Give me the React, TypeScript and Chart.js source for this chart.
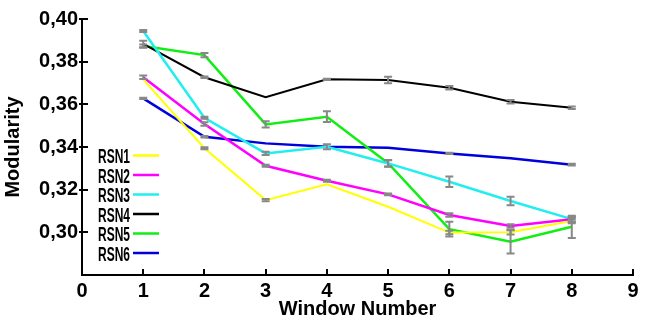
import React, { useEffect, useRef } from "react";
import { Chart, registerables } from "chart.js";

Chart.register(...registerables);

const windows = [1, 2, 3, 4, 5, 6, 7, 8];
const seriesNames = ["RSN1", "RSN2", "RSN3", "RSN4", "RSN5", "RSN6"];
const seriesColors = ["#ffff00", "#ff00ff", "#22eeee", "#000000", "#11ee11", "#0000dd"];

const rsn1 = [0.3717, 0.3394, 0.3151, 0.3225, 0.312, 0.2999, 0.3, 0.3053];
const rsn2 = [0.3727, 0.3508, 0.3312, 0.3242, 0.3178, 0.3081, 0.303, 0.3061];
const rsn3 = [0.3944, 0.3537, 0.337, 0.3401, 0.3323, 0.3237, 0.3147, 0.3062];
const rsn4 = [0.3883, 0.3727, 0.3633, 0.3717, 0.3714, 0.3678, 0.3612, 0.3584];
const rsn5 = [0.3873, 0.3831, 0.3506, 0.3542, 0.3324, 0.3015, 0.2956, 0.3026];
const rsn6 = [0.3628, 0.3448, 0.3417, 0.3401, 0.3397, 0.337, 0.3347, 0.3317];

const err1 = [0, 0.0005, 0.0005, 0, 0, 0.0008, 0.001, 0.001];
const err2 = [0.0008, 0.0008, 0.0005, 0.0005, 0.0004, 0.0008, 0.0008, 0.0012];
const err3 = [0.0005, 0.0005, 0.0008, 0, 0.0015, 0.0025, 0.002, 0.001];
const err4 = [0.0015, 0.0003, 0, 0.0003, 0.0015, 0.0008, 0.0008, 0.0006];
const err5 = [0.0008, 0.001, 0.0015, 0.0025, 0.0015, 0.0035, 0.0055, 0.0052];
const err6 = [0.0003, 0.0004, 0, 0.0012, 0, 0.0003, 0, 0.0004];

const yTicks = [0.3, 0.32, 0.34, 0.36, 0.38, 0.4];
const xTicks = [1, 2, 3, 4, 5, 6, 7, 8, 9];

const allValues = [rsn1, rsn2, rsn3, rsn4, rsn5, rsn6];
const allErrors = [err1, err2, err3, err4, err5, err6];

const FONT = '"Liberation Sans", Arial, sans-serif';

const errorBarPlugin = {
  id: "errorBars",
  afterDatasetsDraw(chart: any) {
    const ctx = chart.ctx;
    const xs = chart.scales.x;
    const ys = chart.scales.y;
    ctx.save();
    ctx.strokeStyle = "#888888";
    ctx.lineWidth = 2;
    allValues.forEach((vals, si) => {
      vals.forEach((v, i) => {
        const e = allErrors[si][i];
        if (!e) return;
        const px = xs.getPixelForValue(windows[i]);
        const y1 = ys.getPixelForValue(v + e);
        const y2 = ys.getPixelForValue(v - e);
        ctx.beginPath();
        ctx.moveTo(px, y1);
        ctx.lineTo(px, y2);
        ctx.moveTo(px - 4, y1);
        ctx.lineTo(px + 4, y1);
        ctx.moveTo(px - 4, y2);
        ctx.lineTo(px + 4, y2);
        ctx.stroke();
      });
    });
    ctx.restore();
  },
};

const axisTickPlugin = {
  id: "inwardTicks",
  afterDraw(chart: any) {
    const ctx = chart.ctx;
    const xs = chart.scales.x;
    const ys = chart.scales.y;
    const area = chart.chartArea;
    ctx.save();
    ctx.strokeStyle = "#000";
    ctx.lineWidth = 2;
    yTicks.forEach((t) => {
      const py = Math.round(ys.getPixelForValue(t));
      ctx.beginPath();
      ctx.moveTo(area.left - 3, py);
      ctx.lineTo(area.left + 6, py);
      ctx.stroke();
    });
    xTicks.forEach((t) => {
      const px = Math.round(xs.getPixelForValue(t));
      ctx.beginPath();
      ctx.moveTo(px, area.bottom);
      ctx.lineTo(px, area.bottom - 6);
      ctx.stroke();
    });
    ctx.restore();
  },
};

const legendPlugin = {
  id: "insideLegend",
  afterDraw(chart: any) {
    const ctx = chart.ctx;
    ctx.save();
    const startY = 156.5;
    const step = 19.5;
    seriesNames.forEach((name, i) => {
      const cy = startY + i * step;
      ctx.font = "bold 20px " + FONT;
      ctx.fillStyle = "#000";
      ctx.textBaseline = "middle";
      ctx.textAlign = "left";
      const w = ctx.measureText(name).width;
      const target = 32;
      ctx.save();
      ctx.translate(98, cy);
      ctx.scale(target / w, 1.03);
      ctx.fillText(name, 0, 1);
      ctx.restore();
      ctx.strokeStyle = seriesColors[i];
      ctx.lineWidth = 2.5;
      ctx.beginPath();
      ctx.moveTo(133, cy - 1);
      ctx.lineTo(159, cy - 1);
      ctx.stroke();
    });
    ctx.restore();
  },
};

export default function App() {
  const ref = useRef<HTMLCanvasElement | null>(null);
  useEffect(() => {
    document.body.style.margin = "0";
    if (!ref.current) return;
    const chart = new Chart(ref.current, {
      type: "line",
      data: {
        datasets: allValues.map((vals, i) => ({
          label: seriesNames[i],
          data: vals.map((v, j) => ({ x: windows[j], y: v })),
          borderColor: seriesColors[i],
          backgroundColor: seriesColors[i],
          borderWidth: i === 3 || i === 0 ? 2 : 2.5,
          pointRadius: 0,
          tension: 0,
          fill: false,
        })),
      },
      options: {
        responsive: false,
        animation: false,
        layout: { padding: { top: 19, right: 16, left: 0, bottom: 0 } },
        plugins: {
          legend: { display: false },
          tooltip: { enabled: false },
        },
        scales: {
          x: {
            type: "linear",
            min: 0,
            max: 9,
            afterFit: (s: any) => {
              s.height = 46;
            },
            afterBuildTicks: (s: any) => {
              s.ticks = [0, ...xTicks].map((v) => ({ value: v }));
            },
            grid: { display: false, drawTicks: false },
            border: { display: true, color: "#000", width: 2 },
            ticks: {
              color: "#000",
              padding: 4,
              maxRotation: 0,
              font: { family: FONT, size: 20, weight: "bold" },
              callback: (v: any) => String(v),
            },
            title: {
              display: true,
              text: "Window Number",
              color: "#000",
              padding: { top: 0, bottom: 0 },
              font: { family: FONT, size: 20, weight: "bold" },
            },
          },
          y: {
            type: "linear",
            min: 0.28,
            max: 0.4,
            afterFit: (s: any) => {
              s.width = 82;
            },
            afterBuildTicks: (s: any) => {
              s.ticks = yTicks.map((v) => ({ value: v }));
            },
            grid: { display: false, drawTicks: false },
            border: { display: true, color: "#000", width: 2 },
            ticks: {
              color: "#000",
              padding: 4,
              font: { family: FONT, size: 20, weight: "bold" },
              callback: (v: any) => Number(v).toFixed(2).replace(".", ","),
            },
            title: {
              display: true,
              text: "Modularity",
              color: "#000",
              padding: { top: 1, bottom: 0 },
              font: { family: FONT, size: 20, weight: "bold" },
            },
          },
        },
      },
      plugins: [errorBarPlugin, axisTickPlugin, legendPlugin],
    });
    return () => chart.destroy();
  }, []);
  return <canvas ref={ref} width={649} height={321} style={{ display: "block" }} />;
}
